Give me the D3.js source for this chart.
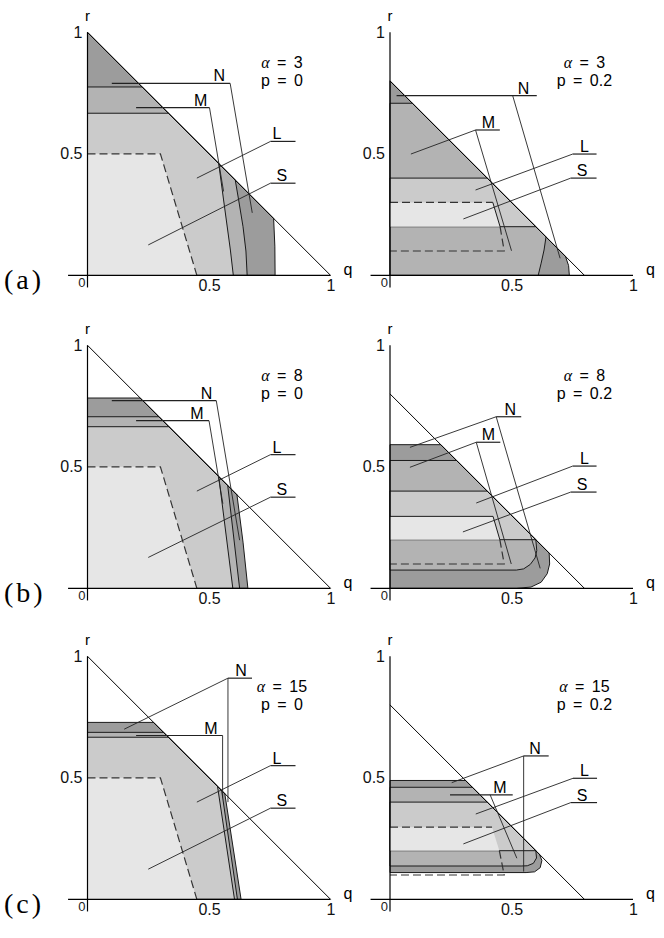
<!DOCTYPE html>
<html>
<head>
<meta charset="utf-8">
<script src="https://cdn.jsdelivr.net/npm/d3@7"></script>
<style>
  body { margin: 0; background: #fff; }
</style>
</head>
<body>
<svg id="fig"></svg>
<script>
// panel order: (a) p=0, (a) p=0.2, (b) p=0, (b) p=0.2, (c) p=0, (c) p=0.2
const rowLetters = ["(a)", "(b)", "(c)"];
const alphaValues = ["3", "3", "8", "8", "15", "15"];
const pValues = ["0", "0.2", "0", "0.2", "0", "0.2"];
const budget = [1, 0.8, 1, 0.8, 1, 0.8];   // diagonal q + r = budget
const xTicks = [0.5, 1];
const yTicks = [0.5, 1];

// region outlines as [q, r], outermost first
const regionN = [
  [[0,0],[0,1],[0.766,0.234],[0.771,0.12],[0.772,0]],
  [[0,0],[0,0.8],[0.722,0.078],[0.735,0.04],[0.738,0]],
  [[0,0],[0,0.783],[0.217,0.783],[0.615,0.385],[0.64,0.19],[0.66,0]],
  [[0,0],[0,0.591],[0.209,0.591],[0.655,0.145],[0.657,0.10],[0.647,0.06],[0.622,0.025],[0.58,0.005],[0.52,0]],
  [[0,0],[0,0.728],[0.272,0.728],[0.565,0.435],[0.632,0]],
  [[0,0.11],[0,0.489],[0.311,0.489],[0.615,0.185],[0.625,0.16],[0.618,0.13],[0.595,0.113],[0.56,0.11]]
];
const regionM = [
  [[0,0],[0,0.775],[0.225,0.775],[0.608,0.392],[0.622,0.31],[0.64,0.20],[0.652,0.10],[0.657,0]],
  [[0,0],[0,0.708],[0.092,0.708],[0.642,0.158],[0.634,0.104],[0.622,0.05],[0.61,0]],
  [[0,0],[0,0.706],[0.294,0.706],[0.577,0.423],[0.626,0]],
  [[0,0.075],[0,0.526],[0.274,0.526],[0.6,0.2],[0.604,0.155],[0.597,0.125],[0.577,0.098],[0.55,0.08],[0.52,0.075]],
  [[0,0],[0,0.687],[0.313,0.687],[0.552,0.448],[0.617,0]],
  [[0,0.137],[0,0.461],[0.339,0.461],[0.6,0.2],[0.603,0.17],[0.59,0.148],[0.565,0.138],[0.54,0.137]]
];
const regionL = [
  [[0,0],[0,0.667],[0.333,0.667],[0.54,0.46],[0.56,0.31],[0.588,0.104],[0.60,0]],
  [[0,0.2],[0,0.4],[0.4,0.4],[0.6,0.2]],
  [[0,0],[0,0.665],[0.335,0.665],[0.54,0.46],[0.598,0]],
  [[0,0.2],[0,0.4],[0.4,0.4],[0.6,0.2]],
  [[0,0],[0,0.667],[0.333,0.667],[0.535,0.465],[0.605,0]],
  [[0,0.2],[0,0.4],[0.4,0.4],[0.6,0.2]]
];
const regionS = [
  [[0,0],[0,0.5],[0.3,0.5],[0.45,0]],
  [[0,0.2],[0,0.3],[0.423,0.3],[0.453,0.2]],
  [[0,0],[0,0.5],[0.3,0.5],[0.45,0]],
  [[0,0.2],[0,0.296],[0.424,0.296],[0.452,0.2]],
  [[0,0],[0,0.5],[0.3,0.5],[0.45,0]],
  [[0,0.2],[0,0.297],[0.42,0.297],[0.45,0.2]]
];
// S outline pieces: dashed and solid
const sDashed = [
  [[[0,0.5],[0.3,0.5],[0.45,0]]],
  [[[0,0.3],[0.423,0.3]], [[0.453,0.2],[0.47,0.1],[0,0.1]]],
  [[[0,0.5],[0.3,0.5],[0.45,0]]],
  [[[0.452,0.2],[0.47,0.1],[0,0.1]]],
  [[[0,0.5],[0.3,0.5],[0.45,0]]],
  [[[0,0.297],[0.42,0.297]], [[0.45,0.2],[0.47,0.1],[0,0.1]]]
];
const sSolid = [
  [],
  [[[0.423,0.3],[0.453,0.2]]],
  [],
  [[[0,0.296],[0.424,0.296],[0.452,0.2]]],
  [],
  []
];

// labels: name, text q, underline r, underline q from, q to, legs [start q, end q, end r]
const labels = [
  [["N",0.542,0.79,0.10,0.587,[[0.587,0.678,0.257]]],
   ["M",0.466,0.69,0.20,0.502,[[0.502,0.56,0.345]]],
   ["L",0.78,0.551,0.753,0.856,[[0.753,0.45,0.40]]],
   ["S",0.80,0.379,0.753,0.856,[[0.753,0.25,0.125]]]],
  [["N",0.55,0.739,0.027,0.604,[[0.505,0.70,0.07]]],
   ["M",0.405,0.598,0.352,0.452,[[0.352,0.086,0.499],[0.352,0.50,0.101]]],
   ["L",0.80,0.499,0.752,0.85,[[0.752,0.352,0.351]]],
   ["S",0.79,0.40,0.744,0.85,[[0.744,0.302,0.232]]]],
  [["N",0.49,0.772,0.10,0.53,[[0.53,0.626,0.198]]],
   ["M",0.45,0.69,0.20,0.50,[[0.50,0.557,0.348]]],
   ["L",0.78,0.55,0.753,0.856,[[0.753,0.45,0.40]]],
   ["S",0.80,0.375,0.753,0.856,[[0.753,0.25,0.127]]]],
  [["N",0.495,0.706,0.437,0.54,[[0.437,0.082,0.58],[0.437,0.618,0.082]]],
   ["M",0.405,0.601,0.355,0.454,[[0.355,0.082,0.498],[0.355,0.499,0.10]]],
   ["L",0.80,0.503,0.752,0.85,[[0.752,0.355,0.351]]],
   ["S",0.79,0.396,0.744,0.85,[[0.744,0.30,0.232]]]],
  [["N",0.632,0.91,0.578,0.677,[[0.578,0.151,0.70],[0.578,0.578,0.40]]],
   ["M",0.508,0.674,0.20,0.556,[[0.556,0.556,0.42]]],
   ["L",0.78,0.55,0.753,0.856,[[0.753,0.45,0.40]]],
   ["S",0.80,0.375,0.753,0.856,[[0.753,0.25,0.124]]]],
  [["N",0.597,0.59,0.55,0.653,[[0.55,0.254,0.48],[0.55,0.55,0.114]]],
   ["M",0.452,0.43,0.247,0.505,[[0.412,0.522,0.169]]],
   ["L",0.80,0.498,0.753,0.852,[[0.753,0.353,0.351]]],
   ["S",0.79,0.398,0.744,0.852,[[0.744,0.302,0.228]]]]
];

const shades = { N: "#9c9c9c", M: "#b3b3b3", L: "#cbcbcb", S: "#e6e6e6" };
const sans = "'Liberation Sans', Arial, sans-serif";
const serif = "'Liberation Serif', 'DejaVu Serif', serif";

const width = 664, height = 938;
const colX = [87.5, 390], rowY = [275.3, 588.3, 899.3], unit = 243;

const svg = d3.select("#fig")
    .attr("width", width)
    .attr("height", height);

for (let i = 0; i < 6; i++) {
    const row = Math.floor(i / 2), col = i % 2;
    const x = d3.scaleLinear().domain([0, 1]).range([colX[col], colX[col] + unit]);
    const y = d3.scaleLinear().domain([0, 1]).range([rowY[row], rowY[row] - unit]);
    const line = d3.line().x(d => x(d[0])).y(d => y(d[1]));
    const g = svg.append("g");

    // nested regions, outermost first
    [["N", regionN], ["M", regionM], ["L", regionL]].forEach(([k, arr]) => {
        g.append("path")
            .attr("d", line(arr[i]) + "Z")
            .attr("fill", shades[k])
            .attr("stroke", "#1a1a1a")
            .attr("stroke-width", 1)
            .attr("stroke-linejoin", "round");
    });
    g.append("path")
        .attr("d", line(regionS[i]) + "Z")
        .attr("fill", shades.S);

    sDashed[i].forEach(pts => {
        g.append("path").attr("d", line(pts))
            .attr("fill", "none").attr("stroke", "#333")
            .attr("stroke-width", 1.2).attr("stroke-dasharray", "8,4");
    });
    sSolid[i].forEach(pts => {
        g.append("path").attr("d", line(pts))
            .attr("fill", "none").attr("stroke", "#1a1a1a").attr("stroke-width", 1);
    });

    // budget line q + r = c
    g.append("line")
        .attr("x1", x(0)).attr("y1", y(budget[i]))
        .attr("x2", x(budget[i])).attr("y2", y(0))
        .attr("stroke", "#000").attr("stroke-width", 1);

    // axes
    g.append("line")
        .attr("x1", x(-0.08)).attr("x2", x(1)).attr("y1", y(0)).attr("y2", y(0))
        .attr("stroke", "#000").attr("stroke-width", 1.2);
    g.append("line")
        .attr("x1", x(0)).attr("x2", x(0)).attr("y1", y(1)).attr("y2", y(-0.05))
        .attr("stroke", "#000").attr("stroke-width", 1.2);

    const xAxis = g.append("g")
        .attr("transform", `translate(0,${y(0)})`)
        .call(d3.axisBottom(x).tickValues(xTicks).tickSize(0).tickPadding(4).tickFormat(d3.format("")));
    xAxis.select(".domain").remove();
    xAxis.selectAll("text").attr("font-size", 16).attr("font-family", sans).attr("fill", "#111");

    const yAxis = g.append("g")
        .attr("transform", `translate(${x(0)},0)`)
        .call(d3.axisLeft(y).tickValues(yTicks).tickSize(0).tickPadding(5).tickFormat(d3.format("")));
    yAxis.select(".domain").remove();
    yAxis.selectAll("text").attr("font-size", 16).attr("font-family", sans).attr("fill", "#111");

    g.append("text")
        .attr("x", x(0) - 2).attr("y", y(0) + 12)
        .attr("text-anchor", "end")
        .attr("font-family", sans).attr("font-size", 13).attr("fill", "#222")
        .text("0");
    g.append("text")
        .attr("x", x(0)).attr("y", y(1) - 11)
        .attr("text-anchor", "middle")
        .attr("font-family", sans).attr("font-size", 15)
        .text("r");
    g.append("text")
        .attr("x", x(1) + 13).attr("y", y(0))
        .attr("font-family", sans).attr("font-size", 16)
        .text("q");

    // region labels with leader lines
    labels[i].forEach(([name, tq, br, b0, b1, legs]) => {
        g.append("line")
            .attr("x1", x(b0)).attr("x2", x(b1)).attr("y1", y(br)).attr("y2", y(br))
            .attr("stroke", "#222").attr("stroke-width", 1.2);
        legs.forEach(([s, eq, er]) => {
            g.append("line")
                .attr("x1", x(s)).attr("y1", y(br))
                .attr("x2", x(eq)).attr("y2", y(er))
                .attr("stroke", "#222").attr("stroke-width", 0.9);
        });
        g.append("text")
            .attr("x", x(tq)).attr("y", y(br) - 2)
            .attr("text-anchor", "middle")
            .attr("font-family", sans).attr("font-size", 16)
            .text(name);
    });

    // parameter text
    const t1 = g.append("text")
        .attr("x", x(0.8)).attr("y", y(0.855))
        .attr("text-anchor", "middle")
        .attr("font-family", sans).attr("font-size", 16)
        .attr("word-spacing", 3);
    t1.append("tspan").attr("font-family", serif).attr("font-style", "italic").text("α");
    t1.append("tspan").text(" = " + alphaValues[i]);
    g.append("text")
        .attr("x", x(0.8)).attr("y", y(0.78))
        .attr("text-anchor", "middle")
        .attr("font-family", sans).attr("font-size", 16)
        .attr("word-spacing", 3)
        .text("p = " + pValues[i]);

    if (col === 0) {
        svg.append("text")
            .attr("x", 4).attr("y", rowY[row] + 14)
            .attr("font-family", serif).attr("font-size", 28)
            .attr("letter-spacing", 3)
            .text(rowLetters[row]);
    }
}
</script>
</body>
</html>
